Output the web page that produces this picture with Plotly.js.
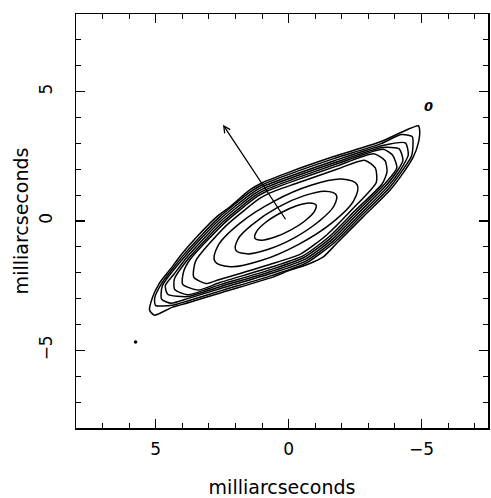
<!DOCTYPE html>
<html>
<head>
<meta charset="utf-8">
<script src="https://cdn.plot.ly/plotly-3.0.1.min.js"></script>
<style>html,body{margin:0;padding:0;background:#fff;}#chart{width:491px;height:498px;}</style>
</head>
<body>
<div id="chart"></div>
<script>
// Contour outlines (milliarcseconds): outermost first
const o1x = [5.23, 5.12, 4.86, 4.48, 3.99, 3.46, 2.71, 2.22, 1.46, 1.01, -0.05, -1.67, -3.45, -4.20, -4.88, -4.93, -4.88, -4.69, -4.31, -3.82, -2.80, -1.82, -1.29, -0.73, -0.05, 0.59, 2.48, 3.72, 4.37, 5.05];
const o1y = [-3.45, -2.95, -2.40, -1.90, -1.24, -0.62, 0.16, 0.54, 1.20, 1.47, 1.90, 2.48, 3.06, 3.41, 3.68, 3.50, 3.02, 2.48, 1.86, 1.20, 0.16, -0.85, -1.40, -1.67, -1.90, -2.17, -2.75, -3.14, -3.33, -3.64];
const o2x = [5.01, 5.04, 4.80, 3.93, 2.65, 1.40, 0.97, -0.08, -1.70, -3.48, -4.23, -4.65, -4.63, -4.25, -3.76, -2.74, -1.76, -0.69, 0.61, 2.50, 3.74, 4.39];
const o2y = [-3.26, -2.98, -2.45, -1.29, 0.11, 1.15, 1.41, 1.83, 2.41, 2.99, 3.34, 3.26, 2.53, 1.91, 1.25, 0.21, -0.80, -1.61, -2.10, -2.68, -3.07, -3.26];
const o3x = [4.78, 4.75, 3.88, 2.60, 1.35, 0.93, -0.10, -1.72, -3.50, -4.39, -4.50, -4.19, -3.70, -2.68, -1.70, -0.65, 0.64, 2.53, 3.77, 4.42];
const o3y = [-3.02, -2.50, -1.34, 0.06, 1.10, 1.35, 1.75, 2.33, 2.91, 3.02, 2.55, 1.95, 1.29, 0.25, -0.76, -1.55, -2.02, -2.60, -2.99, -3.18];
const o4x = [4.55, 4.64, 4.31, 3.82, 2.54, 1.29, 0.89, -0.13, -1.75, -3.53, -4.16, -4.30, -4.13, -3.64, -2.62, -1.64, -0.61, 0.66, 2.55, 3.79];
const o4y = [-2.83, -2.50, -2.05, -1.39, 0.01, 1.05, 1.28, 1.68, 2.26, 2.84, 2.79, 2.35, 2.00, 1.34, 0.30, -0.71, -1.48, -1.95, -2.53, -2.92];
const o5x = [4.29, 4.30, 3.76, 2.48, 1.23, 0.84, -0.15, -1.77, -3.55, -3.90, -4.07, -3.58, -2.56, -1.58, -0.56, 0.68, 2.57, 3.81];
const o5y = [-2.64, -2.25, -1.44, -0.04, 1.00, 1.22, 1.61, 2.19, 2.77, 2.56, 2.05, 1.39, 0.35, -0.66, -1.42, -1.88, -2.46, -2.85];
const o6x = [3.99, 3.95, 3.71, 2.43, 1.18, 0.80, -0.18, -1.80, -3.20, -3.63, -3.70, -3.52, -2.50, -1.52, -0.52, 0.70, 2.59, 3.40];
const o6y = [-2.44, -1.95, -1.49, -0.09, 0.95, 1.16, 1.54, 2.12, 2.60, 2.33, 1.90, 1.44, 0.40, -0.61, -1.36, -1.80, -2.38, -2.67];
const o7x = [3.57, 3.50, 2.34, 1.09, 0.74, -0.22, -1.84, -2.85, -3.26, -3.30, -2.41, -1.43, -0.46, 0.74, 2.63, 3.10];
const o7y = [-2.17, -1.55, -0.17, 0.87, 1.07, 1.43, 2.01, 2.35, 2.05, 1.50, 0.47, -0.54, -1.27, -1.69, -2.27, -2.42];
const e1x = [-2.58, -1.99, -0.84, 0.56, 1.84, 2.65, 2.78, 2.19, 1.04, -0.36, -1.64, -2.45];
const e1y = [1.40, 1.62, 1.38, 0.76, -0.09, -0.94, -1.55, -1.77, -1.53, -0.91, -0.06, 0.79];
const e2x = [-1.79, -1.37, -0.56, 0.43, 1.32, 1.90, 1.99, 1.57, 0.76, -0.23, -1.12, -1.70];
const e2y = [1.01, 1.15, 0.97, 0.52, -0.10, -0.69, -1.13, -1.27, -1.09, -0.64, -0.03, 0.57];
const e3x = [-1.03, -0.78, -0.30, 0.31, 0.86, 1.21, 1.27, 1.02, 0.54, -0.07, -0.62, -0.97];
const e3y = [0.62, 0.70, 0.59, 0.31, -0.05, -0.41, -0.66, -0.74, -0.63, -0.35, 0.01, 0.37];

// Arrow (tail -> head), isolated point and beam label
const arrowTail = [0.08, 0.01];
const arrowHead = [2.47, 3.72];
const dotX = [5.76];
const dotY = [-4.68];
const beamLabelPos = [-5.27, 4.43];
const beamLabel = '0';

const tickVals = [-5, 0, 5];
const axisTitle = 'milliarcseconds';

const outer = [[o1x,o1y],[o2x,o2y],[o3x,o3y],[o4x,o4y],[o5x,o5y],[o6x,o6y],[o7x,o7y]];
const inner = [[e1x,e1y],[e2x,e2y],[e3x,e3y]];

const traces = [];
outer.forEach(([xs, ys]) => {
  traces.push({x: xs.concat([xs[0]]), y: ys.concat([ys[0]]), type: 'scatter', mode: 'lines',
    line: {color: '#000', width: 1.5, shape: 'spline', smoothing: 0.6}, hoverinfo: 'skip', showlegend: false});
});
inner.forEach(([xs, ys]) => {
  traces.push({x: xs.concat([xs[0]]), y: ys.concat([ys[0]]), type: 'scatter', mode: 'lines',
    line: {color: '#000', width: 1.5, shape: 'spline', smoothing: 1}, hoverinfo: 'skip', showlegend: false});
});
traces.push({x: dotX, y: dotY, type: 'scatter', mode: 'markers', marker: {color: '#000', size: 3.5}, showlegend: false, hoverinfo: 'skip'});

const fontFam = 'DejaVu Sans, sans-serif';
const axisCommon = {
  showline: true, linecolor: '#000', linewidth: 1.5, mirror: 'ticks',
  ticks: 'inside', ticklen: 9, tickwidth: 1.2, tickcolor: '#000',
  tickvals: tickVals, showgrid: false, zeroline: false,
  minor: {ticks: 'inside', dtick: 1, ticklen: 5, tickwidth: 1, tickcolor: '#000', showgrid: false},
  tickfont: {family: fontFam, size: 17, color: '#000'}
};

const layout = {
  width: 491, height: 498,
  margin: {l: 76, r: 3, t: 14, b: 70},
  paper_bgcolor: '#fff', plot_bgcolor: '#fff',
  xaxis: Object.assign({}, axisCommon, {range: [8, -7.5], ticklabelstandoff: 5,
    title: {text: axisTitle, font: {family: fontFam, size: 19, color: '#000'}, standoff: 28}}),
  yaxis: Object.assign({}, axisCommon, {range: [-8, 8], tickangle: -90, ticklabelstandoff: 16,
    title: {text: axisTitle, font: {family: fontFam, size: 19, color: '#000'}, standoff: 2}}),
  annotations: [
    {x: arrowHead[0], y: arrowHead[1], ax: arrowTail[0], ay: arrowTail[1], xref: 'x', yref: 'y', axref: 'x', ayref: 'y',
     showarrow: true, arrowhead: 5, arrowsize: 1, arrowwidth: 1.3, arrowcolor: '#000', text: ''},
    {x: beamLabelPos[0], y: beamLabelPos[1], xref: 'x', yref: 'y', text: '<i><b>' + beamLabel + '</b></i>', showarrow: false,
     font: {family: fontFam, size: 13, color: '#000'}}
  ]
};

Plotly.newPlot('chart', traces, layout, {staticPlot: true, displayModeBar: false});
</script>
</body>
</html>
